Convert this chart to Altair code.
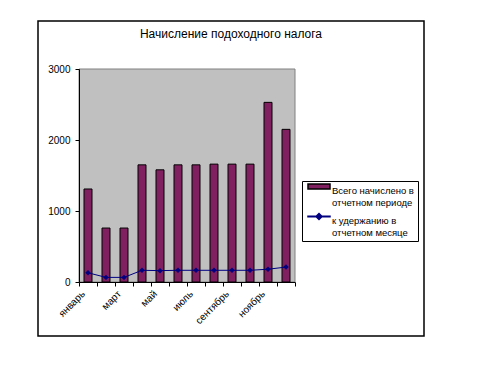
import altair as alt
import pandas as pd

months = ["январь", "февраль", "март", "апрель", "май", "июнь",
          "июль", "август", "сентябрь", "октябрь", "ноябрь", "декабрь"]
total = [1310, 760, 760, 1650, 1580, 1650, 1650, 1660, 1660, 1660, 2530, 2150]
withheld = [130, 65, 65, 165, 160, 165, 165, 165, 165, 165, 180, 210]
series_names = ["Всего начислено в\nотчетном периоде", "к удержанию в\nотчетном месяце"]
shown_months = months[::2]
y_ticks = [0, 500, 1000, 1500, 2000, 2500, 3000]

df = pd.DataFrame({"month": months, "total": total, "withheld": withheld})
legend_df = pd.DataFrame({"series": series_names})

FONT = "Liberation Sans"
PURPLE = "#802060"
NAVY = "#000080"
W, H = 216, 213

x_enc = alt.X("month:N", sort=months, title=None,
              scale=alt.Scale(paddingInner=0, paddingOuter=0),
              axis=alt.Axis(tickBand="extent", labelAngle=315, labelAlign="right",
                            labelBaseline="middle", labelOffset=-5, labelPadding=6,
                            domainColor="black", tickColor="black", tickSize=4, zindex=2,
                            labelFontSize=10, labelColor="black", labelFont=FONT,
                            labelExpr="indexof(" + str(shown_months).replace('"', "'") + ", datum.value) >= 0 ? datum.value : ''"))

y_scale = alt.Scale(domain=[0, 3000], nice=False)
y_axis = alt.Axis(values=y_ticks, format="d", grid=False, domainColor="black", tickColor="black",
                  tickSize=4, labelFontSize=10, labelColor="black", labelFont=FONT,
                  labelPadding=5, zindex=2)

color_scale = alt.Scale(domain=series_names, range=[PURPLE, NAVY])
shape_scale = alt.Scale(domain=series_names,
                        range=["M-2.2,-1.4H2.2V-0.4H-2.2Z",
                               "M-2.2,-0.95H2.2V-0.85H-2.2Z M-0.6,-0.9L0,-1.5L0.6,-0.9L0,-0.3Z"])
stroke_scale = alt.Scale(domain=series_names, range=["black", NAVY])

plot_bg = alt.Chart(pd.DataFrame({"a": [0]})).mark_rect(fill="#C0C0C0", stroke="#808080", strokeWidth=1).encode(
    x=alt.value(0), x2=alt.value(W), y=alt.value(0), y2=alt.value(H)
)

bars = alt.Chart(df).mark_bar(size=8, color=PURPLE, stroke="black", strokeWidth=1).encode(
    x=x_enc,
    y=alt.Y("total:Q", scale=y_scale, axis=y_axis, title=None),
)

line = alt.Chart(df).mark_line(color=NAVY, strokeWidth=1).encode(
    x=alt.X("month:N", sort=months),
    y=alt.Y("withheld:Q", scale=y_scale),
)

pts = alt.Chart(df).mark_point(shape="diamond", filled=True, color=NAVY, size=30, opacity=1).encode(
    x=alt.X("month:N", sort=months),
    y=alt.Y("withheld:Q", scale=y_scale),
)

LEG = dict(title=None, orient="none", legendX=223, legendY=112)

legend_layer = alt.Chart(legend_df).transform_filter("false").mark_point(filled=True, opacity=1, strokeWidth=0.8).encode(
    color=alt.Color("series:N", scale=color_scale,
                    legend=alt.Legend(**LEG,
                                      strokeColor="black", fillColor="white", padding=4,
                                      symbolSize=100, symbolOffset=7, rowPadding=3, labelFontSize=9.5,
                                      labelFont=FONT, labelColor="black", labelLimit=200,
                                      labelOffset=7,
                                      labelExpr="split(datum.label, '\\n')")),
    shape=alt.Shape("series:N", scale=shape_scale, legend=alt.Legend(**LEG)),
    stroke=alt.Stroke("series:N", scale=stroke_scale, legend=alt.Legend(**LEG)),
)

frame = alt.Chart(pd.DataFrame({"a": [0]})).mark_rect(filled=False, stroke="black", strokeWidth=1.5).encode(
    x=alt.value(-41), x2=alt.value(345), y=alt.value(-48), y2=alt.value(267)
)

chart = alt.layer(frame, plot_bg, bars, line, pts, legend_layer).properties(
    width=W, height=H,
    title=alt.TitleParams("Начисление подоходного налога", anchor="middle", offset=-21, dx=44,
                          fontSize=12, fontWeight="normal", font=FONT, color="black"),
    autosize=alt.AutoSizeParams(type="none"),
    padding={"left": 79, "top": 69, "right": 203, "bottom": 102},
).configure_view(stroke=None)

chart.save("out.html", embed_options={"renderer": "svg", "actions": False})
